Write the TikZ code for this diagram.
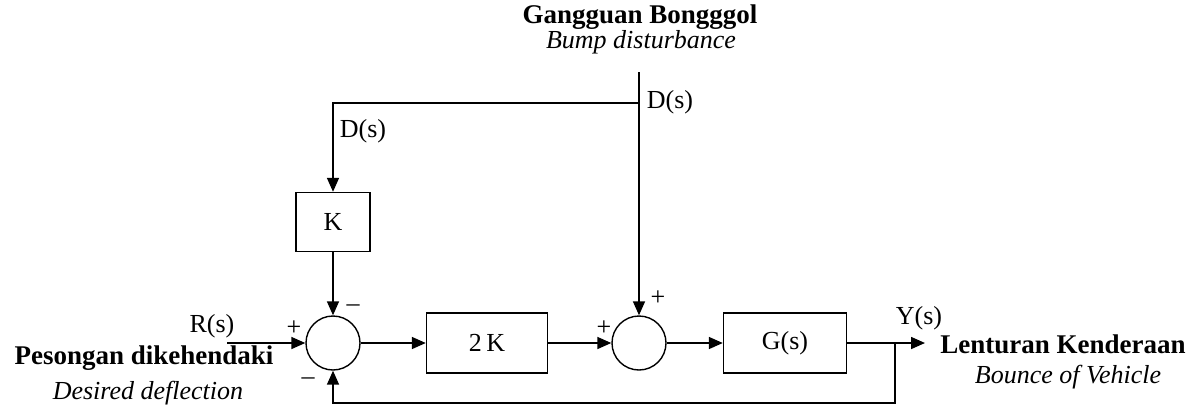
\documentclass[tikz,border=0pt]{standalone}
\usepackage{fontspec}
\setmainfont{Liberation Serif}
\usetikzlibrary{arrows.meta}

\tikzset{
  blockbox/.style={draw, line width=0.7pt, minimum width=#1, minimum height=30pt, inner sep=0pt, font=\fontsize{13}{15}\selectfont},
  sumnode/.style={draw, circle, line width=0.7pt, minimum size=27pt, inner sep=0pt},
  arr/.style={line width=0.8pt, -{Triangle[length=7pt,width=6pt]}},
  lbl/.style={inner sep=0pt, font=\fontsize{13}{15}\selectfont},
  sgn/.style={inner sep=0pt, font=\fontsize{13}{15}\selectfont},
  head/.style={inner sep=0pt, font=\fontsize{13.5}{16}\selectfont\bfseries},
  sub/.style={inner sep=0pt, font=\fontsize{13}{15}\selectfont\itshape}
}

\begin{document}
\begin{tikzpicture}[x=0.5pt, y=-0.5pt]
  \useasboundingbox (0,0) rectangle (1198,414);

  % blocks and summing junctions
  \node[blockbox=37pt, minimum height=29.5pt] (kbox) at (333,222) {K};
  \node[sumnode] (sum1) at (333,343) {};
  \node[blockbox=60.5pt] (kk) at (487,343) {2\,K};
  \node[sumnode] (sum2) at (639,343) {};
  \node[blockbox=61.5pt] (gbox) at (785,343) {G(s)};

  % signal points
  \coordinate (rin) at (227,343);
  \coordinate (dtop) at (639,72);
  \coordinate (dsplit) at (639,103);
  \coordinate (dleft) at (333,103);
  \coordinate (ysplit) at (895,343);
  \coordinate (yout) at (925,343);
  \coordinate (fbr) at (895,403);
  \coordinate (fbl) at (333,403);

  % connectors
  \draw[arr] (rin) -- (sum1);
  \draw[arr] (dtop) -- (sum2);
  \draw[arr] (dsplit) -- (dleft) -- (kbox);
  \draw[arr] (kbox) -- (sum1);
  \draw[arr] (sum1) -- (kk);
  \draw[arr] (kk) -- (sum2);
  \draw[arr] (sum2) -- (gbox);
  \draw[arr] (gbox) -- (yout);
  \draw[arr] (ysplit) -- (fbr) -- (fbl) -- (sum1);

  % signal labels
  \node[lbl] (dsr) at (670,102) {D(s)};
  \node[lbl] (dsl) at (363,131) {D(s)};
  \node[lbl] (rs) at (212,326) {R(s)};
  \node[lbl] (ys) at (919,318) {Y(s)};

  % signs at the junctions
  \node[sgn] (p1) at (294,328) {+};
  \node[sgn] (m1) at (353,308) {--};
  \node[sgn] (m2) at (308,381) {--};
  \node[sgn] (p2) at (604,328) {+};
  \node[sgn] (p3) at (658,298) {+};

  % titles
  \node[head] (t1) at (640,17) {Gangguan Bongggol};
  \node[sub] (t1e) at (641,42) {Bump disturbance};
  \node[head] (t2) at (144,358) {Pesongan dikehendaki};
  \node[sub] (t2e) at (148,393) {Desired deflection};
  \node[head] (t3) at (1063,344) {Lenturan Kenderaan};
  \node[sub] (t3e) at (1068,377) {Bounce of Vehicle};
\end{tikzpicture}
\end{document}
